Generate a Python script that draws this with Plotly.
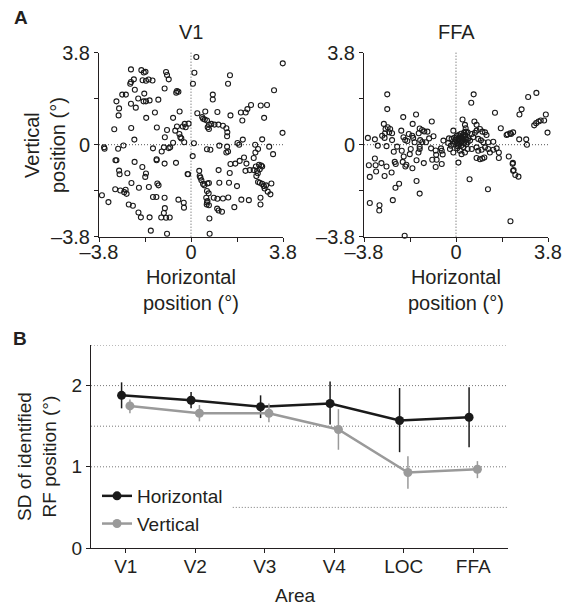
import numpy as np
import plotly.graph_objects as go

# ---------------- data ----------------
v1_x = [0.22, 3.79, -2.48, -2.05, -1.95, -1.88, -1.03, -0.99, 0.14, 1.61, -1.75, -1.86, -2.0, -1.59, -2.36, -2.48, -2.51,
        -0.92, 0.08, 1.53, -2.32, -1.09, -0.58, -0.52, -0.61, 3.43, -2.69, -2.84, -1.93, -2.18, -1.86, -1.71, -1.96,
        -1.35, -3.08, 0.9, 0.9, -2.48, -2.97, -2.28, -2.99, -1.49, -0.47, -1.85, -0.74, 0.26, 0.59, 0.46, 0.5, 0.57,
        0.66, 1.09, 1.63, 2.06, 2.26, 2.33, 2.48, 2.88, 3.14, 2.12, 3.02, -3.17, -2.47, -1.41, -0.26, -0.1, -0.22,
        -0.34, -0.58, -0.65, -0.48, -0.44, -0.4, -0.28, -0.74, -0.99, -1.08, 0.74, 0.84, 0.97, 1.13, 1.32, 1.46, 1.5,
        1.49, 0.69, 0.74, 3.78, -2.34, 2.14, 1.92, 1.99, 2.94, 3.23, -3.59, -3.57, -3.01, -2.79, -1.57, -1.12, -0.92,
        -0.86, 0.12, 0.66, 0.8, 1.17, 1.49, 1.53, 1.46, 2.65, 2.66, 2.77, -1.21, 0.07, -1.42, -1.42, -2.33, -1.09,
        -0.62, -3.08, -3.12, -2.97, -2.95, -2.63, -2.01, -1.86, -1.89, -0.12, 0.34, 1.14, 1.6, 1.83, 1.63, 2.19, 2.59,
        2.43, 2.59, 2.73, 2.84, 2.94, 2.9, 2.81, 2.68, 2.76, 2.7, 3.39, 2.01, 2.29, 2.25, 0.36, 0.39, 0.43, 0.5, 0.55,
        0.68, 0.74, 0.66, 0.73, 0.63, 0.68, 0.66, 0.65, 0.74, 1.17, 1.57, 1.9, 2.84, 2.94, 3.01, 3.1, 3.32, 3.04, 3.17,
        3.28, 2.77, -3.68, -3.41, -3.13, -2.92, -2.7, -2.76, -2.66, -2.46, -2.15, -1.74, -1.39, -1.34, -1.57, -1.43,
        -1.09, -0.52, -0.3, -0.29, -2.57, -2.4, -2.17, -2.07, -1.71, -1.08, -1.12, -1.23, -1.03, -0.88, -1.66, -0.99,
        0.94, 1.09, 1.32, 1.54, 1.79, 2.08, 2.39, 2.87, 2.87, 1.08, 1.14, 1.28, 0.76, 0.77, -0.14]
v1_y = [3.62, 3.36, 3.11, 3.08, 2.98, 3.01, 3.0, 2.88, 2.97, 2.87, 2.69, 2.64, 2.66, 2.65, 2.7, 2.59, 2.52,
        2.7, 2.52, 2.52, 2.27, 2.32, 2.22, 2.19, 2.15, 2.25, 2.07, 2.07, 2.11, 1.91, 1.79, 1.83, 1.79,
        1.86, 1.79, 2.07, 1.87, 1.69, 1.5, 1.53, 1.21, 1.33, 1.37, 1.11, 1.11, 1.3, 1.37, 1.14, 1.07, 1.04,
        1.0, 1.35, 1.21, 1.33, 1.33, 1.47, 1.64, 1.62, 1.64, 1.0, 1.11, 0.64, 0.69, 0.71, 0.86, 0.87, 0.72,
        0.75, 0.75, 0.58, 0.44, 0.31, 0.26, 0.1, 0.08, 0.61, 0.31, 0.82, 0.86, 0.83, 0.83, 0.78, 0.68, 0.51,
        0.35, 0.72, 0.65, 0.49, 0.21, 0.21, 0.07, 0.0, 0.22, -0.08, -0.11, -0.17, -0.17, -0.03, -0.15, -0.11, -0.14,
        -0.11, 0.06, -0.19, -0.21, -0.04, -0.08, -0.28, -0.32, 0.0, -0.32, -0.18, -0.28, -0.47, -0.6, -0.64, -0.71, -0.78,
        -0.75, -0.64, -0.64, -1.07, -1.22, -1.18, -0.92, -1.19, -1.33, -1.22, -1.08, -1.05, -1.17, -0.78, -0.8, -0.53, -0.55,
        -1.05, -1.05, -1.08, -1.01, -0.9, -0.86, -0.83, -0.9, -1.18, -1.29, -0.39, -0.67, -0.78, -1.08, -1.29, -1.36, -1.47, -1.62, -1.68,
        -1.6, -1.58, -1.91, -2.01, -2.19, -2.33, -2.39, -2.47, -2.5, -1.57, -1.57, -1.71, -1.57, -1.62, -1.71, -1.68, -1.6, -1.81, -1.94,
        -2.05, -1.54, -2.09, -2.37, -1.84, -1.89, -1.86, -1.96, -2.03, -1.58, -1.78, -1.75, -1.6, -1.68, -2.16, -2.16,
        -2.19, -2.27, -2.4, -2.6, -2.47, -2.52, -2.8, -3.0, -3.0, -2.62, -2.82, -3.01, -3.02, -3.01, -3.55, -3.68,
        -2.19, -2.23, -2.22, -2.18, -2.58, -2.27, -2.29, -2.19, -2.47, -2.64, -2.72, -2.77, -3.05, -3.68, -1.21]

ffa_x = [-2.84, -2.84, -3.64, -3.35, -3.23, -3.05, -2.95, -2.98, -2.91, -2.82, -2.72, -2.76, -2.64, -2.93, -2.64, -2.87,
         -2.43, -3.6, -3.56, -3.35, -3.32, -3.3, -3.08, -2.95, -2.87, -2.66, -2.57, -2.53, -2.49, -2.35, -2.5, -2.61,
         -3.56, -3.16, -3.17, -2.18, -1.65, -2.26, -2.17, -2.1, -2.01, -1.95, -1.81, -1.77, -1.71, -1.79, -1.5, -1.4,
         -1.31, -1.54, -1.48, -1.39, -1.24, -1.5, -1.5, -1.87, -1.91, -2.16, -2.05, -2.09, -2.2, -2.24, -1.8, -1.63,
         -1.55, -1.33, -1.63, -1.5, -2.12, 0.56, 0.63, 0.73, 1.32, 2.18, 2.34, 2.35, 2.38, 2.45, 2.58, 2.25, 2.61,
         2.62, 2.71, 2.9, 2.93, 2.98, 3.32, 3.23, 3.31, 3.41, 3.5, 3.64, 3.71, 3.78, 2.13, 2.24, 1.77,
         -0.82, -0.55, -0.84,
         0.03, 0.10, 0.16, 0.23, 0.30, 0.34, 0.41, 0.48, 0.10, 0.16, 0.23, 0.30, 0.37, 0.44, 0.51, 0.03, 0.10, 0.21,
         0.34, 0.48, 0.58, -0.04, -0.11, -0.21, -0.32, 0.65, 0.78, 0.71, 0.85, 0.99, 1.09, 1.2, 1.26, 0.92, 1.03,
         1.13, 1.33, 1.54, -0.25, -0.11, 0.05, 0.16, 0.23, 0.37, 0.48, 0.65, 0.85, 0.92, 1.06, 1.2, 1.33, 1.40, 1.54,
         1.68, 1.77, -1.03, -0.62, -0.59, -0.98, -0.8, -0.84, -0.59, 0.10, 0.85, 0.99, 1.09, 1.17, 0.37, 0.40, 0.27,
         0.76, 0.85, -0.11, -0.52, -0.29, -0.18, -0.07, -1.0, -1.18, -0.93, -1.11, 1.85, 2.09, 2.27, 2.36, 2.36, 1.61,
         0.05, 0.2, 0.27, 0.13, 0.38, 0.06, 0.31, 0.42, -0.02, 0.18]
ffa_y = [2.08, 1.47, 0.28, 0.22, -0.04, 0.37, 0.28, 0.86, 0.65, 0.72, 0.65, 0.51, 0.47, 0.47, 0.19, -0.06,
         -0.08, -0.85, -1.33, -0.57, -0.85, -1.11, -0.76, -1.29, -0.9, -1.15, -0.29, -0.71, -0.8, -1.61, -1.78, -2.29,
         -2.41, -2.5, -2.72, 1.14, 1.25, 0.58, 0.31, 0.19, 0.15, 0.44, 0.37, 0.28, 0.1, 0.86, 0.67, 0.61,
         0.55, 0.47, 0.19, 0.11, 0.1, -0.08, -0.18, -0.18, -0.39, -0.49, -0.83, -0.9, -0.71, -0.25, -0.97, -0.64,
         -0.32, -0.76, -1.5, -2.02, -3.76, -1.43, 1.73, 2.08, -1.84, -0.49, -0.79, -0.75, -1.05, -1.25, -1.32, -3.16, 0.22,
         1.25, 1.46, 0.22, 0.0, 1.97, 2.14, 0.8, 0.89, 0.96, 1.0, 1.0, 1.25, 0.5, 0.43, 0.47, -0.55,
         -0.42, -0.4, -0.24,
         0.37, 0.40, 0.35, 0.31, 0.40, 0.51, 0.54, 0.51, 0.24, 0.17, 0.10, 0.24, 0.31, 0.21, 0.26, 0.07, -0.01, -0.04,
         0.07, 0.10, 0.17, 0.12, 0.03, -0.04, 0.07, 0.44, 0.49, 0.31, 0.58, 0.65, 0.54, 0.51, 0.40, 0.24, 0.18,
         0.10, 0.10, 0.12, -0.18, -0.32, -0.15, -0.25, -0.39, -0.32, -0.18, -0.18, -0.11, -0.25, -0.21, -0.11, -0.18, -0.32, -0.21,
         -0.15, -0.32, -0.15, -0.15, -0.25, -0.62, -0.62, -0.92, -0.8, -0.74, -0.55, -0.6, -0.57, -0.53, 0.82, 0.68, 1.04,
         0.96, 0.82, 0.58, 0.17, 0.26, 0.24, 0.29, 0.96, 0.54, 0.35, 0.26, 0.68, 0.4, 0.44, 0.51, -1.08, 1.32,
         0.22, 0.45, 0.18, 0.05, 0.4, -0.06, -0.1, 0.02, 0.2, 0.28]

areas = ["V1", "V2", "V3", "V4", "LOC", "FFA"]
horiz_mean = [1.88, 1.82, 1.74, 1.78, 1.57, 1.61]
horiz_hi = [2.04, 1.92, 1.88, 2.05, 1.97, 1.98]
horiz_lo = [1.72, 1.72, 1.60, 1.52, 1.18, 1.24]
vert_mean = [1.75, 1.66, 1.66, 1.46, 0.93, 0.97]
vert_hi = [1.83, 1.76, 1.78, 1.71, 1.13, 1.07]
vert_lo = [1.66, 1.56, 1.55, 1.21, 0.73, 0.86]

scatter_ticks = [-3.8, -1.9, 0, 1.9, 3.8]
scatter_ticktext = ["\u20133.8", "", "0", "", "3.8"]
b_yticks = [0, 1, 2]
b_grid = [1.0, 1.5, 2.0, 2.5]

# ---------------- figure ----------------
W, H = 566, 613
FONT = "Liberation Sans, Arial, Helvetica, sans-serif"
TXT = "#231f20"
DOT = "1px,2px"


def px_x(p):
    return p / W


def px_y(p):
    return 1 - p / H


fig = go.Figure()

marker_open = dict(symbol="circle-open", size=5, color="#1a1a1a", line=dict(width=1.1, color="#1a1a1a"))
fig.add_trace(go.Scatter(x=v1_x, y=v1_y, mode="markers", marker=marker_open, xaxis="x", yaxis="y",
                         showlegend=False, cliponaxis=False))
fig.add_trace(go.Scatter(x=ffa_x, y=ffa_y, mode="markers", marker=marker_open, xaxis="x2", yaxis="y2",
                         showlegend=False, cliponaxis=False))

idx = np.arange(len(areas))
hm, hh, hl = map(np.array, (horiz_mean, horiz_hi, horiz_lo))
vm, vh, vl = map(np.array, (vert_mean, vert_hi, vert_lo))
fig.add_trace(go.Scatter(
    x=idx - 0.06, y=hm, mode="lines+markers", name="Horizontal",
    line=dict(color="#1a1a1a", width=2.5), marker=dict(size=9, color="#1a1a1a"),
    error_y=dict(type="data", symmetric=False, array=hh - hm, arrayminus=hm - hl,
                 color="#1a1a1a", thickness=1.5, width=0),
    xaxis="x3", yaxis="y3", cliponaxis=False))
fig.add_trace(go.Scatter(
    x=idx + 0.06, y=vm, mode="lines+markers", name="Vertical",
    line=dict(color="#9a9a9a", width=2.5), marker=dict(size=9, color="#9a9a9a"),
    error_y=dict(type="data", symmetric=False, array=vh - vm, arrayminus=vm - vl,
                 color="#9a9a9a", thickness=1.5, width=0),
    xaxis="x3", yaxis="y3", cliponaxis=False))


def axis(size=20, **kw):
    d = dict(showline=True, linecolor="#231f20", linewidth=1, ticks="outside", ticklen=4,
             tickcolor="#231f20", tickwidth=1, showgrid=False, zeroline=False, automargin=False,
             tickfont=dict(size=size, color=TXT, family=FONT))
    d.update(kw)
    return d


ydom_a = [px_y(236.7), px_y(52.7)]
fig.update_layout(
    template="none",
    width=W, height=H, margin=dict(l=0, r=0, t=0, b=0, pad=0), autosize=False,
    paper_bgcolor="white", plot_bgcolor="white",
    font=dict(family=FONT, color=TXT),
    xaxis=axis(domain=[px_x(99), px_x(283)], range=[-3.8, 3.8], anchor="y",
               tickvals=scatter_ticks, ticktext=scatter_ticktext, ticklabelstandoff=-7),
    yaxis=axis(domain=ydom_a, range=[-3.8, 3.8], anchor="x",
               tickvals=scatter_ticks, ticktext=scatter_ticktext),
    xaxis2=axis(domain=[px_x(364), px_x(548)], range=[-3.8, 3.8], anchor="y2",
                tickvals=scatter_ticks, ticktext=scatter_ticktext, ticklabelstandoff=-7),
    yaxis2=axis(domain=ydom_a, range=[-3.8, 3.8], anchor="x2",
                tickvals=scatter_ticks, ticktext=scatter_ticktext),
    xaxis3=axis(size=19, domain=[px_x(91), px_x(508)], range=[-0.5, 5.5], anchor="y3",
                tickvals=list(idx), ticktext=areas, ticklabelstandoff=-3),
    yaxis3=axis(size=19, domain=[px_y(548), px_y(345)], range=[0, 2.5], anchor="x3",
                tickvals=b_yticks, ticktext=[str(v) for v in b_yticks]),
    legend=dict(x=px_x(97), y=px_y(477), xanchor="left", yanchor="top",
                font=dict(size=19, color=TXT, family=FONT), bgcolor="rgba(0,0,0,0)",
                tracegroupgap=0, itemsizing="trace"),
)

shapes = []
# dotted crosshairs in the scatter panels
for xr, yr in (("x", "y"), ("x2", "y2")):
    shapes.append(dict(type="line", xref=xr, yref=yr + " domain", x0=0, x1=0, y0=0, y1=1,
                       line=dict(color="#555555", width=1, dash=DOT), layer="below"))
    shapes.append(dict(type="line", xref=xr + " domain", yref=yr, x0=0, x1=1, y0=0, y1=0,
                       line=dict(color="#555555", width=1, dash=DOT), layer="below"))
# dotted gridlines in panel B
for g in b_grid:
    shapes.append(dict(type="line", xref="x3 domain", yref="y3", x0=0, x1=1, y0=g, y1=g,
                       line=dict(color="#777777", width=1, dash=DOT), layer="below"))
shapes.append(dict(type="line", xref="x3 domain", yref="y3", x0=0.34, x1=1, y0=0.5, y1=0.5,
                   line=dict(color="#777777", width=1, dash=DOT), layer="below"))
fig.update_layout(shapes=shapes)

ann = []


def text(s, x, y, size, angle=0, bold=False):
    ann.append(dict(text=("<b>%s</b>" % s) if bold else s, x=px_x(x), y=px_y(y), xref="paper", yref="paper",
                    showarrow=False, xanchor="center", yanchor="middle", textangle=angle,
                    font=dict(size=size, color=TXT, family=FONT)))


text("A", 21, 18, 19, bold=True)
text("B", 20, 338, 19, bold=True)
text("V1", 191, 32, 20)
text("FFA", 456, 32, 20)
text("Vertical<br>position (\u00b0)", 45, 145, 20, angle=-90)
text("Horizontal<br>position (\u00b0)", 191, 290, 20)
text("Horizontal<br>position (\u00b0)", 456, 290, 20)
text("SD of identified<br>RF position (\u00b0)", 37, 457, 19, angle=-90)
text("Area", 295, 595, 19)
fig.update_layout(annotations=ann)

fig.write_html("out.html")
